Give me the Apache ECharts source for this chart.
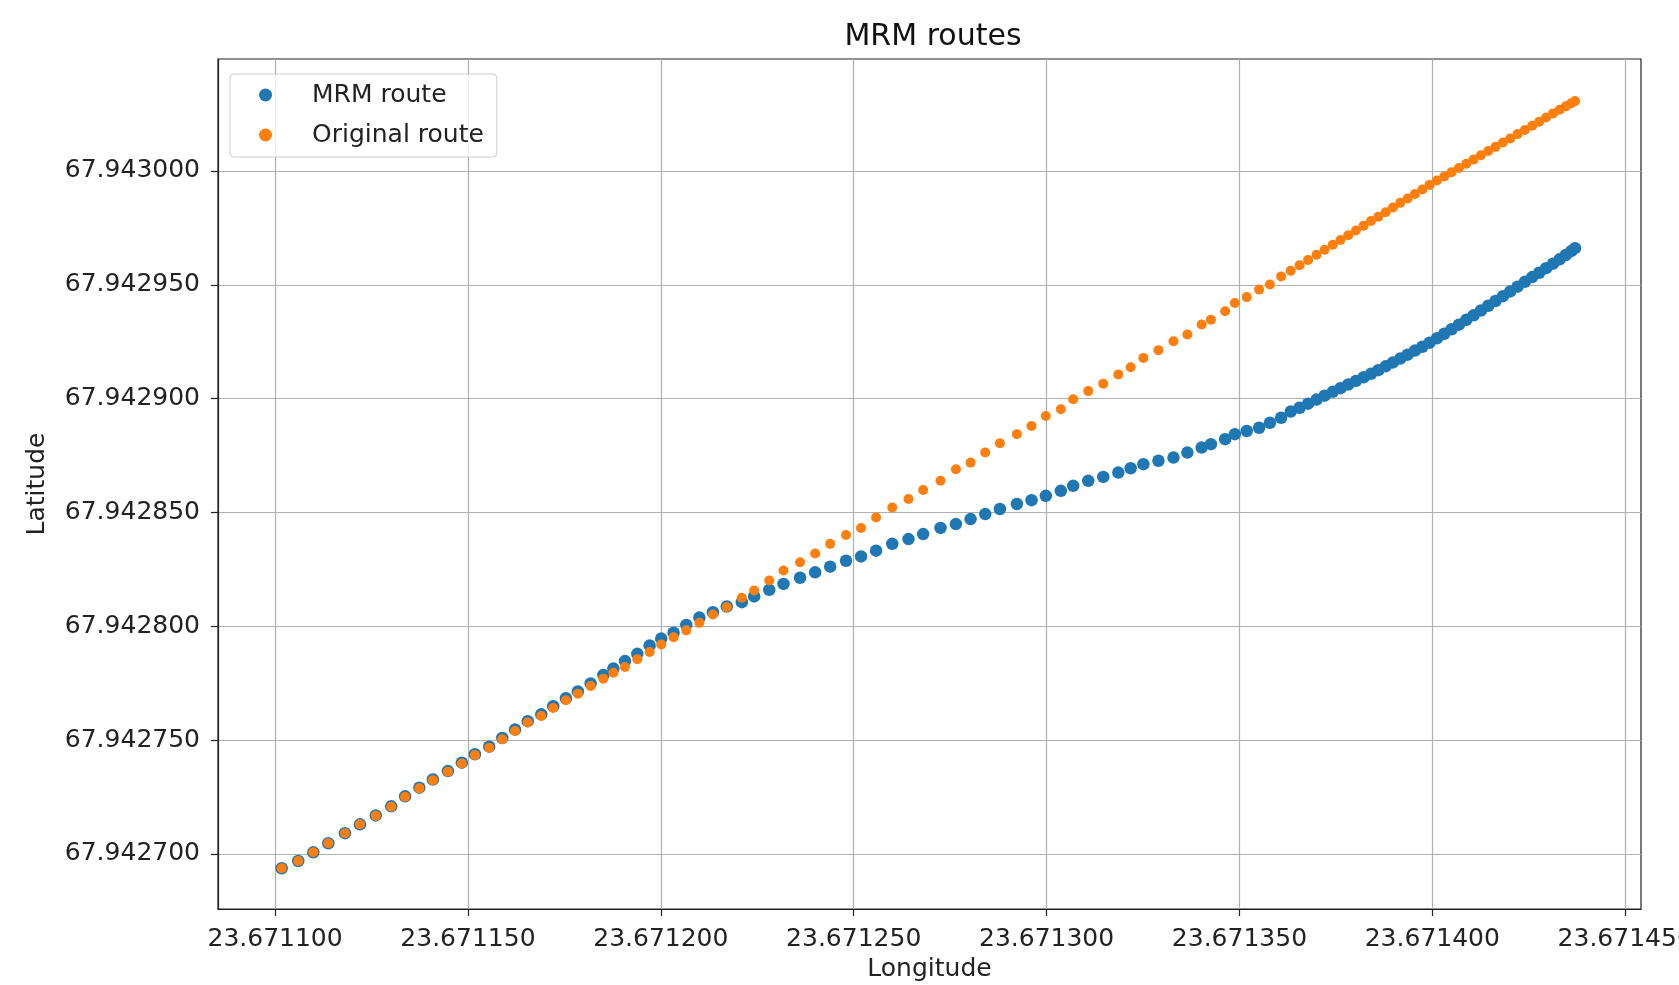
<!DOCTYPE html>
<html><head><meta charset="utf-8">
<script src="https://cdn.jsdelivr.net/npm/echarts@6/dist/echarts.min.js"></script>
<style>html,body{margin:0;padding:0;background:#fff}#c{width:1679px;height:985px}</style>
</head><body><div id="c"></div>
<script>
// Base coordinates; offsets below are in micro-degrees (1e-6 deg)
const LON_BASE = 23.6711;
const LAT_BASE = 67.9427;

const lonOffsetMicro = [
  1.7, 6.0, 9.9, 13.8, 18.1, 22.0, 26.1, 30.1, 33.7, 37.4, 40.9, 44.8, 48.4, 51.8, 55.5, 58.9, 62.2, 65.5, 69.0, 72.1, 75.4, 78.5, 81.8, 85.1,
  87.7, 90.7, 93.9, 97.1, 100.1, 103.3, 106.6, 110.0, 113.5, 117.1, 121.0, 124.2, 128.1, 131.8, 136.1, 140.0, 143.9, 148.0, 151.9, 155.8, 160.0, 164.2, 168.0, 172.5,
  176.5, 180.3, 184.1, 187.9, 192.3, 196.1, 199.8, 203.7, 206.9, 210.8, 214.7, 218.6, 221.8, 225.1, 229.0, 232.9, 236.5, 240.2, 242.6, 246.3, 248.8, 251.9, 255.1, 257.9, 260.8,
  263.3, 265.6, 267.8, 270.0, 272.1, 274.2, 276.2, 278.2, 280.2, 282.2, 284.1, 286.0, 287.9, 289.8, 291.7, 293.6, 295.5, 297.4, 299.3,
  301.2, 303.1, 305.0, 306.9, 308.8, 310.7, 312.6, 314.5, 316.4, 318.3, 320.2, 322.1, 324.0, 325.9, 327.7, 329.5, 331.3, 333.0, 334.6, 336.0, 337.0
];

const mrmLatOffsetMicro = [
  -6.3, -3.1, 0.7, 4.7, 9.1, 13.0, 16.9, 20.9, 25.3, 29.1, 32.7, 36.4, 40.1, 43.8, 47.1, 50.9, 54.6, 58.3, 61.3, 64.9, 68.4, 71.4, 74.9, 78.6,
  81.4, 84.7, 87.9, 91.5, 94.6, 97.2, 100.6, 103.8, 106.2, 108.7, 110.6, 113.1, 116.0, 118.6, 121.3, 123.7, 126.2, 128.8, 130.7, 133.2, 136.2, 138.3, 140.5, 143.2,
  144.9, 147.1, 149.3, 151.5, 153.7, 155.4, 157.3, 159.5, 161.7, 163.9, 165.6, 167.5, 169.4, 171.2, 172.7, 174.1, 176.3, 178.5, 180.0, 182.2, 184.4, 185.8, 187.2, 189.4, 191.6,
  194.3, 196.0, 197.8, 199.6, 201.3, 203.0, 204.6, 206.2, 207.8, 209.4, 210.9, 212.5, 214.2, 215.9, 217.6, 219.3, 221.1, 222.8, 224.6,
  226.5, 228.5, 230.5, 232.5, 234.6, 236.6, 238.7, 240.8, 242.9, 245.0, 247.1, 249.2, 251.3, 253.4, 255.3, 257.3, 259.3, 261.2, 263.1, 264.8, 266.1
];

const origLatOffsetMicro = [
  -6.3, -3.1, 0.7, 4.7, 9.1, 13.0, 16.8, 20.7, 25.1, 28.8, 32.4, 36.1, 39.7, 43.4, 46.6, 50.4, 54.0, 57.7, 60.6, 64.1, 67.5, 70.4, 73.8, 77.0,
  79.6, 82.1, 85.5, 88.7, 92.0, 95.2, 98.2, 101.5, 105.2, 108.4, 112.5, 115.7, 120.1, 124.5, 128.1, 132.0, 136.2, 140.1, 143.2, 147.8, 152.2, 155.9, 159.9, 163.9,
  169.0, 171.9, 176.3, 180.4, 184.4, 188.0, 192.4, 195.3, 199.7, 203.3, 206.5, 210.6, 213.8, 217.9, 221.3, 225.2, 228.2, 232.6, 234.7, 238.4, 242.0, 244.6, 247.9, 250.1, 253.7,
  256.2, 258.6, 260.9, 263.2, 265.4, 267.6, 269.7, 271.8, 273.9, 276.0, 278.0, 279.9, 281.9, 284.0, 286.0, 287.9, 289.9, 291.9, 293.9,
  295.8, 297.6, 299.5, 301.3, 303.2, 305.0, 306.9, 308.8, 310.6, 312.5, 314.3, 316.2, 318.0, 319.9, 321.6, 323.5, 325.3, 326.9, 328.4, 329.8, 330.7
];

const lonTicks = [23.67110, 23.67115, 23.67120, 23.67125, 23.67130, 23.67135, 23.67140, 23.67145];
const latTicks = [67.94270, 67.94275, 67.94280, 67.94285, 67.94290, 67.94295, 67.94300];
const seriesNames = ['MRM route', 'Original route'];

const LON_MIN = 23.6710852, LON_MAX = 23.6714541;
const LAT_MIN = 67.9426758, LAT_MAX = 67.9430492;

function pts(latOff) {
  return lonOffsetMicro.map((o, i) => [LON_BASE + o * 1e-6, LAT_BASE + latOff[i] * 1e-6]);
}

const FONT = 'DejaVu Sans';
const chart = echarts.init(document.getElementById('c'), null, {renderer: 'canvas'});
chart.setOption({
  animation: false,
  backgroundColor: '#ffffff',
  textStyle: {fontFamily: FONT},
  title: {
    text: 'MRM routes', left: 928, top: 17, textAlign: 'center',
    textStyle: {fontSize: 30, fontWeight: 'normal', color: '#111', fontFamily: FONT}
  },
  legend: {
    orient: 'vertical', left: 230, top: 74,
    padding: [7, 13, 8, 29], itemGap: 12, itemWidth: 13, itemHeight: 13, icon: 'circle',
    backgroundColor: 'rgba(255,255,255,0.8)', borderColor: '#cccccc', borderWidth: 1, borderRadius: 4,
    textStyle: {fontSize: 25, color: '#222', lineHeight: 28, fontFamily: FONT, padding: [0, 0, 0, 35]},
    data: seriesNames
  },
  grid: {
    left: 218, right: 38, top: 59, bottom: 76,
    show: true, borderColor: '#222', borderWidth: 1.2,
    containLabel: false, outerBoundsMode: 'none'
  },
  xAxis: {
    type: 'value', min: LON_MIN, max: LON_MAX,
    name: 'Longitude', nameLocation: 'middle', nameGap: 45,
    nameTextStyle: {fontSize: 25, color: '#222', fontFamily: FONT},
    axisLine: {show: true, onZero: false, lineStyle: {color: '#222', width: 1.2}},
    axisTick: {show: true, length: 7, customValues: lonTicks, lineStyle: {color: '#222', width: 1.2}},
    axisLabel: {customValues: lonTicks, formatter: v => v.toFixed(6), fontSize: 25, color: '#222', margin: 18, fontFamily: FONT, showMinLabel: true, showMaxLabel: true},
    splitLine: {show: true, lineStyle: {color: '#b0b0b0', width: 1.2}}
  },
  yAxis: {
    type: 'value', min: LAT_MIN, max: LAT_MAX,
    name: 'Latitude', nameLocation: 'middle', nameGap: 168, nameRotate: 90,
    nameTextStyle: {fontSize: 25, color: '#222', fontFamily: FONT},
    axisLine: {show: true, onZero: false, lineStyle: {color: '#222', width: 1.2}},
    axisTick: {show: true, length: 7, customValues: latTicks, lineStyle: {color: '#222', width: 1.2}},
    axisLabel: {customValues: latTicks, formatter: v => v.toFixed(6), fontSize: 25, color: '#222', margin: 18, fontFamily: FONT},
    splitLine: {show: true, lineStyle: {color: '#b0b0b0', width: 1.2}}
  },
  series: [
    {
      name: seriesNames[0], type: 'scatter', symbol: 'circle', symbolSize: 12.5,
      itemStyle: {color: '#1f77b4', opacity: 1},
      data: pts(mrmLatOffsetMicro)
    },
    {
      name: seriesNames[1], type: 'scatter', symbol: 'circle', symbolSize: 10,
      itemStyle: {color: '#ff7f0e', opacity: 1},
      data: pts(origLatOffsetMicro)
    }
  ]
});
</script></body></html>
